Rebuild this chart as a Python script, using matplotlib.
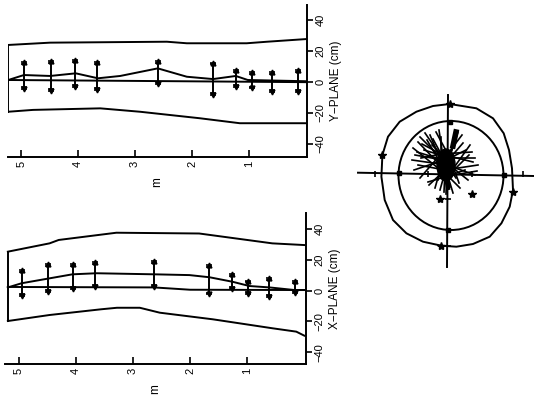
import numpy as np
import matplotlib.pyplot as plt
from matplotlib.patches import Ellipse

plt.rcParams['font.family'] = ['Liberation Sans', 'DejaVu Sans']

# ---------------- Y-plane panel (top) ----------------
y_bar_E = [4.95, 4.48, 4.05, 3.67, 2.60, 1.63, 1.23, 0.94, 0.59, 0.14]
y_bar_top = [13.1, 13.5, 14.2, 12.9, 13.5, 12.5, 7.7, 6.6, 6.6, 7.7]
y_bar_bot = [-4.5, -5.6, -3.4, -5.2, -1.5, -8.2, -3.4, -4.1, -6.6, -6.3]

y_mean_E = [5.19, 4.95, 4.49, 4.04, 3.65, 3.26, 2.60, 2.09, 1.63, 1.23, 1.02, 0.0]
y_mean = [1.7, 4.5, 3.9, 5.6, 2.4, 3.9, 8.8, 3.4, 1.9, 3.9, 1.3, 0.5]

y_up_E = [5.23, 4.49, 2.44, 2.09, 1.04, 0.68, 0.0]
y_up = [23.9, 25.4, 26.0, 25.0, 25.0, 26.0, 27.7]
y_lo_E = [5.23, 4.79, 3.61, 2.91, 1.86, 1.16, 0.0]
y_lo = [-19.2, -18.0, -17.0, -19.2, -23.4, -26.6, -26.6]

y_ref_E = [5.23, 0.0]
y_ref = [1.3, -0.1]

# ---------------- X-plane panel (bottom) ----------------
x_bar_E = [4.95, 4.48, 4.05, 3.66, 2.63, 1.66, 1.26, 0.98, 0.61, 0.16]
x_bar_top = [13.3, 17.2, 17.2, 18.7, 19.2, 16.6, 10.7, 6.4, 7.9, 6.2]
x_bar_bot = [-3.6, -0.8, 0.8, 2.1, 2.1, -2.5, 1.0, -2.3, -4.4, -1.8]

x_mean_E = [5.19, 4.95, 4.46, 4.06, 3.64, 2.62, 2.01, 1.66, 1.26, 0.96, 0.61, 0.17, 0.0]
x_mean = [2.0, 4.7, 7.9, 10.5, 11.2, 10.5, 10.0, 8.6, 5.7, 2.9, 2.0, 0.3, 0.3]

x_up_E = [5.19, 4.46, 4.30, 3.29, 1.84, 0.56, 0.0]
x_up = [25.2, 30.6, 32.8, 37.5, 37.0, 30.6, 29.5]
x_lo_E = [5.19, 4.46, 3.56, 3.28, 2.88, 2.53, 1.60, 0.56, 0.14, 0.0]
x_lo = [-19.8, -15.9, -12.2, -11.2, -11.2, -14.4, -18.7, -24.5, -26.7, -29.3]

x_ref_E = [5.19, 2.63, 2.0, 0.0]
x_ref = [2.3, 2.0, 0.5, 0.3]

E_ticks = [5, 4, 3, 2, 1]
pos_ticks = [-40, -20, 0, 20, 40]

# ---------------- beam-spot diagram (right) ----------------
outer_x = [1.7, 28.4, 45, 55.7, 61, 64, 65, 61.7, 53.4, 41.7, 25, 8.4, -6.6, -25,
           -41.6, -55, -63.3, -66.6, -65.6, -60, -48.3, -31.6, -15, 1.7]
outer_y = [70, 65.7, 55.7, 40.7, 24, 5.7, -16, -32.7, -49.3, -62.7, -70, -72.7, -71.7,
           -67.7, -59.3, -46, -26, -2.7, 19, 37.3, 52.3, 62.3, 68, 70]
outer_star_x = [1.7, -65.6, 65, -6.6]
outer_star_y = [70, 19, -17.7, -71.7]
inner_cx, inner_cy, inner_w, inner_h = 3.0, -1.5, 105, 109
inner_mark_x = [1.7, 0, -49, 55.7]
inner_mark_y = [52.3, -56, 1, -1]
hax_x = [-90, 86]
hax_y = [1.3, -2]
vax_x = [0, -1]
vax_y = [79, -93]
htick_x = [-73, -20, 24, 75]
vtick_y = [-25, -72]
lone_x = [-8.3, 24.4]
lone_y = [-25, -20.3]

hub_x = [-5, -1, -3, 2, -7, 0]
hub_y = [14, 9, 4, 16, 20, -2]
ray_x = [-28, -23, -18, -12, -7, -35, -33, -36, -30, -34, -28, -20, -13, -8, -4, -1, 2, 12,
         20, 27, 30, 27, 24, 22, 14, 10, 7, -24, -16, 17, -10, 8, -30, 18,
         -26, -21, -31, -15, -9, 15, 25, 29, 5, -2, -19, 11, -27, 21]
ray_y = [37, 41, 39, 42, 37, 26, 19, 14, 9, 4, -4, -8, -14, -16, -18, -16, -13, -14,
         -6, -1, 9, 16, 22, 29, 39, 42, 34, 24, 29, 4, -6, -4, 32, 24,
         30, 34, 22, 35, 44, 31, 12, 3, -19, -20, -11, -9, 16, 19]


def panel(ax, bar_E, bar_top, bar_bot, mean_E, mean, up_E, up, lo_E, lo, ref_E, ref,
          label, ylim, xlim):
    lw = 1.4
    ax.plot(up_E, up, color='black', lw=lw)
    ax.plot(lo_E, lo, color='black', lw=lw)
    ax.plot([up_E[0], lo_E[0]], [up[0], lo[0]], color='black', lw=lw)
    ax.plot(ref_E, ref, color='black', lw=lw)
    ax.plot(mean_E, mean, color='black', lw=lw)
    ax.vlines(bar_E, bar_bot, bar_top, color='black', lw=lw)
    n = len(bar_E)
    ax.errorbar(bar_E, bar_top, yerr=[[1.2] * n, [0] * n], fmt='none',
                ecolor='black', capsize=2.5, elinewidth=0, capthick=1.2)
    ax.errorbar(bar_E, bar_bot, yerr=[[0] * n, [1.2] * n], fmt='none',
                ecolor='black', capsize=2.5, elinewidth=0, capthick=1.2)
    ax.plot(bar_E, bar_top, '^', color='black', ms=3.5)
    ax.plot(bar_E, bar_bot, 'v', color='black', ms=3.5)

    ax.set_xlim(*xlim)
    ax.set_ylim(*ylim)
    for s in ['top', 'left']:
        ax.spines[s].set_visible(False)
    ax.spines['right'].set_linewidth(1.4)
    ax.spines['bottom'].set_linewidth(1.4)
    ax.yaxis.tick_right()
    ax.yaxis.set_label_position('right')
    ax.set_yticks(pos_ticks)
    ax.set_yticklabels([str(v).replace('-', '\u2212') for v in pos_ticks],
                       rotation=90, va='center', fontsize=8)
    ax.tick_params(axis='y', direction='out', length=4, width=1.2, pad=2)
    ax.set_xticks(E_ticks)
    ax.set_xticklabels([str(v) for v in E_ticks], rotation=90, fontsize=8)
    ax.tick_params(axis='x', direction='in', length=5, width=1.2, pad=3)
    ax.set_ylabel(label, rotation=90, fontsize=8.5, labelpad=3)
    ax.set_xlabel('m', rotation=90, fontsize=8.5, labelpad=7)
    ax.patch.set_alpha(0)


fig = plt.figure(figsize=(5.34, 3.96), dpi=100)

ax_y = fig.add_axes([8 / 534, 1 - 157 / 396, 299 / 534, 152 / 396])
panel(ax_y, y_bar_E, y_bar_top, y_bar_bot, y_mean_E, y_mean, y_up_E, y_up, y_lo_E, y_lo,
      y_ref_E, y_ref, 'Y\u2212PLANE (cm)', (-48.4, 49.7), (5.23, -0.02))

ax_x = fig.add_axes([5 / 534, 1 - 364 / 396, 301 / 534, 151 / 396])
panel(ax_x, x_bar_E, x_bar_top, x_bar_bot, x_mean_E, x_mean, x_up_E, x_up, x_lo_E, x_lo,
      x_ref_E, x_ref, 'X\u2212PLANE (cm)', (-47.7, 50.3), (5.24, -0.03))

# spot diagram
ax_c = fig.add_axes([340 / 534, 1 - 272 / 396, 194 / 534, 184 / 396])
ax_c.set_xlim(-108, 86)
ax_c.set_ylim(-98, 86)
ax_c.axis('off')
ax_c.plot(hax_x, hax_y, color='black', lw=1.4)
ax_c.plot(vax_x, vax_y, color='black', lw=1.4)
ax_c.plot(outer_x, outer_y, color='black', lw=1.4)
ax_c.add_patch(Ellipse((inner_cx, inner_cy), inner_w, inner_h, fill=False, ec='black', lw=1.4))
ax_c.plot(outer_star_x, outer_star_y, '*', color='black', ms=6)
ax_c.plot(inner_mark_x, inner_mark_y, 's', color='black', ms=3)
ax_c.plot(htick_x, [0.5] * len(htick_x), '|', color='black', ms=5, mew=1.2)
ax_c.plot([0] * len(vtick_y), vtick_y, '_', color='black', ms=5, mew=1.2)
ax_c.plot(lone_x, lone_y, '*', color='black', ms=6)
for i, (rx, ry) in enumerate(zip(ray_x, ray_y)):
    h = i % len(hub_x)
    ax_c.plot([hub_x[h], rx], [hub_y[h], ry], color='black', lw=1.2)
ax_c.add_patch(Ellipse((-2, 9), 18, 32, color='black'))
ax_c.plot([5, 8], [28, 42], color='black', lw=4)
ax_c.plot([-2, 0], [-4, -14], color='black', lw=3)

fig.savefig('out.png', dpi=100)
